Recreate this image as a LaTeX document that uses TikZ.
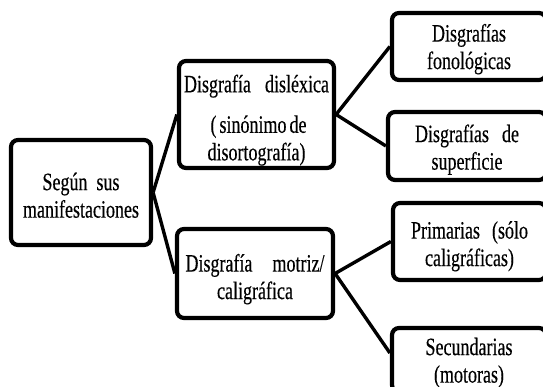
\documentclass[tikz,border=0pt]{standalone}
\usepackage{fontspec}
\setmainfont[FakeStretch=0.72,FakeBold=0.3]{Liberation Serif}
\newcommand{\tstrut}[1]{\rule{0pt}{#1}}
\begin{document}
\begin{tikzpicture}[x=1pt,y=1pt,
  box/.style={draw=black, line width=4.2pt, rounded corners=7pt, fill=white,
    inner sep=0pt, align=center, font=\fontsize{25}{27.5}\selectfont},
  link/.style={draw=black, line width=3.4pt}]
\useasboundingbox (0,0) rectangle (543,387);
\clip (0,0) rectangle (543,387);
\fill[white] (0,0) rectangle (543,387);
% nodes
\node[box, minimum width=140pt, minimum height=105pt] (root) at (81,194.5)
  {\tstrut{23pt}Según\ \ sus\\manifestaciones};
\node[box, minimum width=155pt, minimum height=107pt] (A) at (256.5,272.5)
  {\tstrut{29pt}\makebox[145pt][s]{Disgrafía disléxica}\\[13pt]\makebox[92pt][s]{( sinónimo de}\\disortografía)};
\node[box, minimum width=156pt, minimum height=89pt] (B) at (255,113.5)
  {\tstrut{29pt}\makebox[139pt][s]{Disgrafía motriz/}\\caligráfica};
\node[box, minimum width=154pt, minimum height=67pt] (C1) at (469,340.5)
  {\tstrut{23pt}Disgrafías\\fonológicas};
\node[box, minimum width=158pt, minimum height=68pt] (C2) at (467,241)
  {\tstrut{25pt}\makebox[104pt][s]{Disgrafías de}\\superficie};
\node[box, minimum width=153pt, minimum height=77pt] (C3) at (469.5,145.5)
  {\tstrut{27pt}\makebox[117pt][s]{Primarias (sólo}\\caligráficas)};
\node[box, minimum width=154pt, minimum height=64pt] (C4) at (469,27)
  {\tstrut{23pt}Secundarias\\(motoras)};
% connectors
\draw[link] (root.east) -- (A.west);
\draw[link] (root.east) -- (B.west);
\draw[link] (A.east) -- (C1.west);
\draw[link] (A.east) -- (C2.west);
\draw[link] (B.east) -- (C3.west);
\draw[link] (B.east) -- ([yshift=7pt]C4.west);
\end{tikzpicture}
\end{document}
